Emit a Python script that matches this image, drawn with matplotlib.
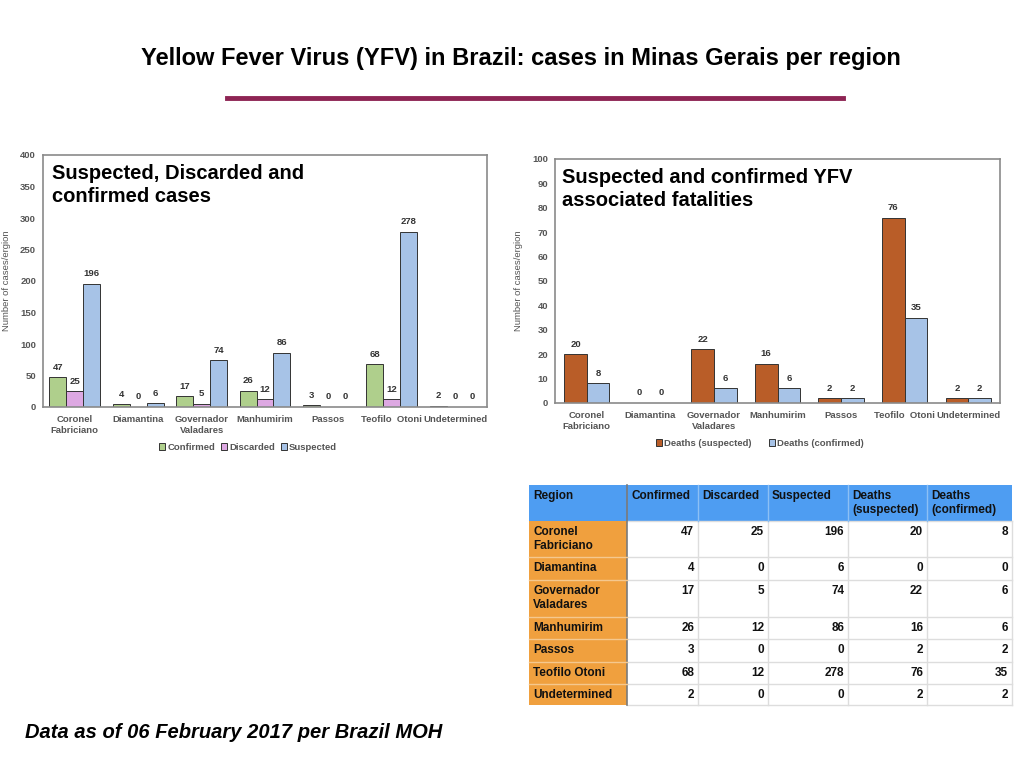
import matplotlib
matplotlib.use("Agg")
import matplotlib.pyplot as plt
import numpy as np
from matplotlib.patches import Rectangle
from matplotlib.lines import Line2D

plt.rcParams['font.family'] = ['Liberation Sans', 'DejaVu Sans']

regions = ["Coronel\nFabriciano", "Diamantina", "Governador\nValadares", "Manhumirim",
           "Passos", "Teofilo  Otoni", "Undetermined"]
table_regions = ["Coronel\nFabriciano", "Diamantina", "Governador\nValadares", "Manhumirim",
                 "Passos", "Teofilo Otoni", "Undetermined"]
confirmed = [47, 4, 17, 26, 3, 68, 2]
discarded = [25, 0, 5, 12, 0, 12, 0]
suspected = [196, 6, 74, 86, 0, 278, 0]
deaths_suspected = [20, 0, 22, 16, 2, 76, 2]
deaths_confirmed = [8, 0, 6, 6, 2, 35, 2]
table_headers = ["Region", "Confirmed", "Discarded", "Suspected", "Deaths\n(suspected)", "Deaths\n(confirmed)"]

W, H = 1024, 768
fig = plt.figure(figsize=(W / 100, H / 100), dpi=100)
fig.patch.set_facecolor('white')

def fx(px):
    return px / W

def fy(py):
    return 1 - py / H

# Title
fig.text(fx(521), fy(58), "Yellow Fever Virus (YFV) in Brazil: cases in Minas Gerais per region",
         ha='center', va='center', fontsize=17, fontweight='bold', color='black')
fig.add_artist(Line2D([fx(227), fx(843)], [fy(98), fy(98)], color='#8E2454', lw=3.5))

# Footnote
fig.text(fx(25), fy(733), "Data as of 06 February 2017 per Brazil MOH", ha='left', va='center',
         fontsize=14.5, fontweight='bold', style='italic', color='black')

tick_col = '#555555'
edge_col = '#8a8a8a'

def style_axes(ax, ymax, step, label_x):
    ax.set_xlim(-0.5, len(regions) - 0.5)
    ax.set_ylim(0, ymax)
    ax.set_yticks(np.arange(0, ymax + 1, step))
    ax.set_xticks(np.arange(len(regions)))
    ax.set_xticklabels(regions, fontsize=6.8, fontweight='bold', color=tick_col, linespacing=1.3)
    for lab in ax.get_yticklabels():
        lab.set_fontsize(6.8)
        lab.set_fontweight('bold')
        lab.set_color(tick_col)
    ax.tick_params(axis='y', length=0, pad=5)
    ax.tick_params(axis='x', length=0, pad=6)
    for sp in ax.spines.values():
        sp.set_color(edge_col)
        sp.set_linewidth(1.2)
    ax.set_ylabel("Number of cases/ergion", fontsize=6.8, color=tick_col)
    ax.yaxis.set_label_coords(label_x, 0.5)

def label_bars(ax, bars, vals):
    for b, v in zip(bars, vals):
        ax.annotate(str(v), (b.get_x() + b.get_width() / 2, v), xytext=(0, 4),
                    textcoords='offset points', ha='center', va='bottom',
                    fontsize=6.8, fontweight='bold', color='#333333')

# Left chart
ax1 = fig.add_axes([fx(43), fy(407), fx(487) - fx(43), fy(155) - fy(407)])
x = np.arange(len(regions))
bw = 0.267
c_green, c_pink, c_blue = '#AFCF8C', '#DDA8E2', '#A7C3E7'
b1 = ax1.bar(x - bw, confirmed, bw, color=c_green, edgecolor='#333333', lw=0.7, label='Confirmed')
b2 = ax1.bar(x, discarded, bw, color=c_pink, edgecolor='#333333', lw=0.7, label='Discarded')
b3 = ax1.bar(x + bw, suspected, bw, color=c_blue, edgecolor='#333333', lw=0.7, label='Suspected')
for bars, vals in [(b1, confirmed), (b2, discarded), (b3, suspected)]:
    label_bars(ax1, bars, vals)
style_axes(ax1, 400, 50, -0.072)
ax1.text(0.02, 0.965, "Suspected, Discarded and\nconfirmed cases", transform=ax1.transAxes,
         ha='left', va='top', fontsize=14.5, fontweight='bold', color='black', linespacing=1.3)
leg1 = ax1.legend(loc='center', bbox_to_anchor=(fx(248), fy(447)), bbox_transform=fig.transFigure,
                  ncol=3, frameon=False, fontsize=6.8, handlelength=0.7, handleheight=0.7,
                  handletextpad=0.2, columnspacing=0.6)
for t in leg1.get_texts():
    t.set_color(tick_col)
    t.set_fontweight('bold')

# Right chart
ax2 = fig.add_axes([fx(555), fy(403), fx(1000) - fx(555), fy(159) - fy(403)])
bw2 = 0.357
c_brown = '#B95D28'
d1 = ax2.bar(x - bw2 / 2, deaths_suspected, bw2, color=c_brown, edgecolor='#333333', lw=0.7,
             label='Deaths (suspected)')
d2 = ax2.bar(x + bw2 / 2, deaths_confirmed, bw2, color=c_blue, edgecolor='#333333', lw=0.7,
             label='Deaths (confirmed)')
label_bars(ax2, d1, deaths_suspected)
label_bars(ax2, d2, deaths_confirmed)
style_axes(ax2, 100, 10, -0.072)
ax2.text(0.015, 0.965, "Suspected and confirmed YFV\nassociated fatalities", transform=ax2.transAxes,
         ha='left', va='top', fontsize=14.5, fontweight='bold', color='black', linespacing=1.3)
leg2 = ax2.legend(loc='center', bbox_to_anchor=(fx(760), fy(443)), bbox_transform=fig.transFigure,
                  ncol=2, frameon=False, fontsize=6.8, handlelength=0.7, handleheight=0.7,
                  handletextpad=0.2, columnspacing=1.8)
for t in leg2.get_texts():
    t.set_color(tick_col)
    t.set_fontweight('bold')

# Table
col_edges = [529, 627, 698, 768, 848, 927, 1012]
row_edges = [485, 521, 557, 580, 617, 639, 662, 684, 705]
tax = fig.add_axes([0, 0, 1, 1])
tax.set_xlim(0, W)
tax.set_ylim(H, 0)
tax.axis('off')
hdr_col = '#4E9DF2'
reg_col = '#F0A03E'
grid_col = '#DDDDDD'
rows = list(zip(table_regions, confirmed, discarded, suspected, deaths_suspected, deaths_confirmed))
tax.add_patch(Rectangle((col_edges[0], row_edges[0]), col_edges[-1] - col_edges[0],
                        row_edges[1] - row_edges[0], facecolor=hdr_col, edgecolor='none'))
for j in range(len(table_headers)):
    tax.text(col_edges[j] + 4, row_edges[0] + 5, table_headers[j], ha='left', va='top',
             fontsize=8.5, fontweight='bold', color='#111111', linespacing=1.2)
tax.add_patch(Rectangle((col_edges[0], row_edges[1]), col_edges[1] - col_edges[0],
                        row_edges[-1] - row_edges[1], facecolor=reg_col, edgecolor='none'))
for i, r in enumerate(rows):
    top = row_edges[i + 1]
    tax.text(col_edges[0] + 4, top + 5, r[0], ha='left', va='top', fontsize=8.5,
             fontweight='bold', color='#111111', linespacing=1.2)
    for j in range(1, 6):
        tax.text(col_edges[j + 1] - 4, top + 5, str(r[j]), ha='right', va='top', fontsize=8.5,
                 fontweight='bold', color='#111111')
for yy in row_edges[1:]:
    tax.plot([col_edges[1], col_edges[-1]], [yy, yy], color=grid_col, lw=1)
for xx in col_edges[2:]:
    tax.plot([xx, xx], [row_edges[1], row_edges[-1]], color=grid_col, lw=1)
for xx in col_edges[2:-1]:
    tax.plot([xx, xx], [row_edges[0], row_edges[1]], color='#8CC0F5', lw=1)
tax.plot([col_edges[1], col_edges[1]], [row_edges[0], row_edges[-1]], color='#7A7A7A', lw=1.2)
for yy in row_edges[2:-1]:
    tax.plot([col_edges[0], col_edges[1]], [yy, yy], color='#F5C88E', lw=1)

fig.savefig("out.png", dpi=100)
